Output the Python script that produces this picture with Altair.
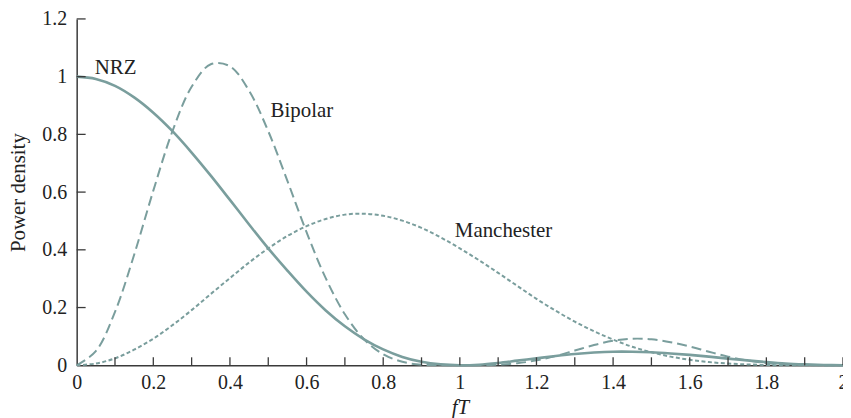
import altair as alt
import pandas as pd

# ---- data ----
fT = [0.00, 0.05, 0.10, 0.15, 0.20, 0.25, 0.30, 0.35, 0.40, 0.45,
      0.50, 0.55, 0.60, 0.65, 0.70, 0.75, 0.80, 0.85, 0.90, 0.95,
      1.00, 1.05, 1.10, 1.15, 1.20, 1.25, 1.30, 1.35, 1.40, 1.45,
      1.50, 1.55, 1.60, 1.65, 1.70, 1.75, 1.80, 1.85, 1.90, 1.95, 2.00]

nrz = [1.000, 0.992, 0.968, 0.928, 0.875, 0.811, 0.737, 0.657, 0.573, 0.488,
       0.405, 0.328, 0.255, 0.190, 0.135, 0.090, 0.055, 0.029, 0.012, 0.003,
       0.000, 0.002, 0.008, 0.016, 0.024, 0.032, 0.039, 0.044, 0.047, 0.047,
       0.045, 0.041, 0.036, 0.030, 0.023, 0.017, 0.011, 0.006, 0.003, 0.001, 0.000]

bipolar = [0.000, 0.049, 0.185, 0.383, 0.605, 0.811, 0.965, 1.043, 1.036, 0.951,
           0.811, 0.639, 0.461, 0.302, 0.177, 0.090, 0.038, 0.012, 0.002, 0.000,
           0.000, 0.000, 0.002, 0.007, 0.017, 0.032, 0.051, 0.070, 0.085, 0.092,
           0.090, 0.080, 0.065, 0.047, 0.030, 0.017, 0.008, 0.003, 0.001, 0.000, 0.000]

manchester = [0.000, 0.006, 0.024, 0.054, 0.092, 0.139, 0.191, 0.247, 0.302, 0.356,
              0.405, 0.448, 0.482, 0.507, 0.522, 0.525, 0.518, 0.501, 0.476, 0.443,
              0.405, 0.364, 0.320, 0.275, 0.230, 0.189, 0.151, 0.118, 0.089, 0.064,
              0.045, 0.030, 0.019, 0.011, 0.006, 0.003, 0.001, 0.000, 0.000, 0.000, 0.000]

series_names = ["NRZ", "Bipolar", "Manchester"]
label_fT = [0.047, 0.506, 0.987]
label_power = [1.01, 0.86, 0.445]

x_label_values = [0, 0.2, 0.4, 0.6, 0.8, 1.0, 1.2, 1.4, 1.6, 1.8, 2.0]
x_minor_ticks = [0.1, 0.2, 0.3, 0.4, 0.5, 0.6, 0.7, 0.8, 0.9, 1.0,
                 1.1, 1.2, 1.3, 1.4, 1.5, 1.6, 1.7, 1.8, 1.9, 2.0]
y_tick_values = [0, 0.2, 0.4, 0.6, 0.8, 1.0, 1.2]

# ---- tables ----
curves = pd.DataFrame({"fT": fT * 3,
                       "power": nrz + bipolar + manchester,
                       "series": [s for s in series_names for _ in fT]})
labels_df = pd.DataFrame({"fT": label_fT, "power": label_power, "name": series_names})
xt_df = pd.DataFrame({"t": x_minor_ticks})
yt_df = pd.DataFrame({"t": [v for v in y_tick_values if v > 0]})

W, H = 770, 348
FONT = "Liberation Serif"
CURVE = "#7a9e9d"
AXIS = "#3a3a3a"
TEXT = "#222222"

xscale = alt.Scale(domain=[0, 2], nice=False, zero=False)
yscale = alt.Scale(domain=[0, 1.2], nice=False, zero=False)

xaxis = alt.Axis(values=x_label_values, format="~g", grid=False, ticks=False, tickSize=0,
                 domainColor=AXIS, domainWidth=1.5, labelFont=FONT, labelFontSize=20,
                 labelColor=TEXT, labelPadding=7, labelFlush=False,
                 title="fT", titleFont=FONT, titleFontSize=21, titleFontStyle="italic",
                 titleFontWeight="normal", titleColor=TEXT,
                 titleX=W / 2, titleY=48, titleBaseline="alphabetic", titleAnchor="middle")
yaxis = alt.Axis(values=y_tick_values, format="~g", grid=False, ticks=False, tickSize=0,
                 domainColor=AXIS, domainWidth=1.5, labelFont=FONT, labelFontSize=20,
                 labelColor=TEXT, labelPadding=10, labelFlush=False,
                 title="Power density", titleFont=FONT, titleFontSize=21,
                 titleFontWeight="normal", titleColor=TEXT,
                 titleX=-58, titleY=H / 2, titleAngle=270, titleBaseline="middle",
                 titleAnchor="middle")

base = alt.Chart(curves).encode(
    x=alt.X("fT:Q", scale=xscale, axis=xaxis),
    y=alt.Y("power:Q", scale=yscale, axis=yaxis),
)

manch = base.transform_filter(alt.datum.series == "Manchester").mark_line(
    color=CURVE, strokeWidth=2, strokeDash=[4, 2.5], interpolate="catmull-rom")
bip = base.transform_filter(alt.datum.series == "Bipolar").mark_line(
    color=CURVE, strokeWidth=2, strokeDash=[10, 5], interpolate="catmull-rom")
nrzl = base.transform_filter(alt.datum.series == "NRZ").mark_line(
    color=CURVE, strokeWidth=2.6, interpolate="catmull-rom")

xt = alt.Chart(xt_df).mark_rule(color=AXIS, strokeWidth=1.3).encode(
    x=alt.X("t:Q", scale=xscale), y=alt.value(H), y2=alt.value(H - 8))
yt = alt.Chart(yt_df).mark_rule(color=AXIS, strokeWidth=1.3).encode(
    y=alt.Y("t:Q", scale=yscale), x=alt.value(0), x2=alt.value(9))

txt = alt.Chart(labels_df).mark_text(font=FONT, fontSize=21, color=TEXT, align="left",
                                     baseline="alphabetic").encode(
    x=alt.X("fT:Q", scale=xscale), y=alt.Y("power:Q", scale=yscale), text="name:N")

chart = alt.layer(manch, bip, nrzl, xt, yt, txt).properties(
    width=W, height=H,
    autosize=alt.AutoSizeParams(type="none"),
    padding={"left": 69, "top": 10, "right": 0, "bottom": 52},
    background="white",
).configure_view(stroke=None)

chart.save("out.html", embed_options={"renderer": "svg", "actions": False})
